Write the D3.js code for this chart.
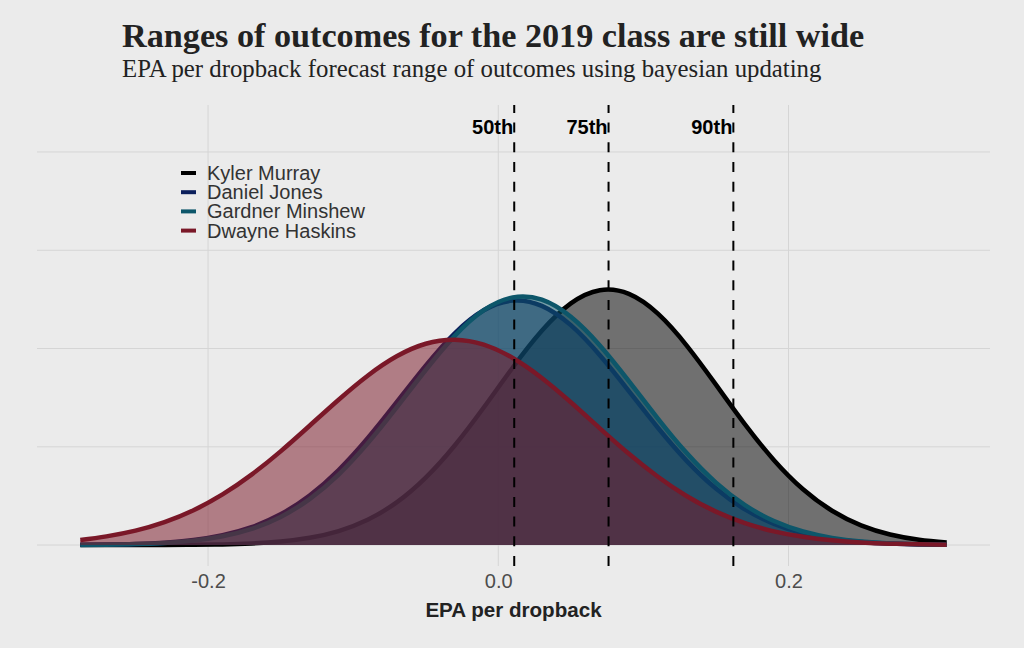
<!DOCTYPE html>
<html>
<head>
<meta charset="utf-8">
<script src="https://cdn.jsdelivr.net/npm/d3@7"></script>
<style>
  html, body { margin: 0; padding: 0; background: #ebebeb; }
  svg { display: block; }
</style>
</head>
<body>
<svg id="chart" width="1024" height="648"></svg>
<script>
// ---- data ----
const xValues = [-0.288, -0.27, -0.25, -0.23, -0.21, -0.19, -0.17, -0.15, -0.13, -0.11,
                 -0.09, -0.07, -0.05, -0.03, -0.01, 0.01, 0.03, 0.05, 0.07, 0.09,
                 0.11, 0.13, 0.15, 0.17, 0.19, 0.21, 0.23, 0.25, 0.27, 0.29, 0.309];
const kylerMurray = [0.0001, 0.0002, 0.0007, 0.002, 0.005, 0.013, 0.032, 0.071, 0.147, 0.284,
                     0.514, 0.868, 1.372, 2.027, 2.799, 3.614, 4.360, 4.918, 5.186, 5.111,
                     4.709, 4.055, 3.265, 2.456, 1.728, 1.136, 0.698, 0.401, 0.215, 0.108, 0.051];
const danielJones = [0.004, 0.0095, 0.022, 0.049, 0.102, 0.199, 0.364, 0.625, 1.008, 1.527,
                     2.174, 2.907, 3.652, 4.310, 4.778, 4.976, 4.869, 4.475, 3.863, 3.134,
                     2.387, 1.709, 1.149, 0.726, 0.431, 0.240, 0.126, 0.062, 0.029, 0.012, 0.005];
const gardnerMinshew = [0.003, 0.008, 0.019, 0.043, 0.090, 0.178, 0.329, 0.573, 0.936, 1.435,
                        2.069, 2.801, 3.563, 4.258, 4.780, 5.041, 4.994, 4.647, 4.063, 3.337,
                        2.575, 1.866, 1.271, 0.813, 0.488, 0.276, 0.146, 0.073, 0.034, 0.015, 0.006];
const dwayneHaskins = [0.102, 0.177, 0.293, 0.466, 0.708, 1.030, 1.433, 1.907, 2.429, 2.958,
                       3.447, 3.842, 4.097, 4.180, 4.079, 3.808, 3.401, 2.906, 2.375, 1.857,
                       1.390, 0.994, 0.680, 0.446, 0.279, 0.167, 0.096, 0.053, 0.028, 0.014, 0.007];
const playerNames = ["Kyler Murray", "Daniel Jones", "Gardner Minshew", "Dwayne Haskins"];
const playerColors = ["#000000", "#0b1f5c", "#0d566a", "#7a1828"];
const quantileValues = [0.011, 0.076, 0.162];
const quantileLabels = ["50th", "75th", "90th"];
const xTickValues = [-0.2, 0, 0.2];
const xTickLabels = ["-0.2", "0.0", "0.2"];
const yGridValues = [0, 2, 4, 6, 8];
const labelLevel = 8.5;
const yTopValue = 8.53;
const titleText = "Ranges of outcomes for the 2019 class are still wide";
const subtitleText = "EPA per dropback forecast range of outcomes using bayesian updating";
const xAxisTitle = "EPA per dropback";

const seriesValues = [kylerMurray, danielJones, gardnerMinshew, dwayneHaskins];

// ---- layout ----
const svg = d3.select("#chart");
const W = 1024, H = 648;
const panel = { left: 37, right: 990, top: 105, bottom: 566 };

svg.append("rect").attr("width", W).attr("height", H).attr("fill", "#ebebeb");

const xExt = d3.extent(xValues);
const xPad = (xExt[1] - xExt[0]) * 0.05;
const x = d3.scaleLinear().domain([xExt[0] - xPad, xExt[1] + xPad]).range([panel.left, panel.right]);
const y = d3.scaleLinear().domain([-yTopValue * 0.05, yTopValue * 1.05]).range([panel.bottom, panel.top]);

// grid
const grid = svg.append("g");
grid.selectAll("line.h").data(yGridValues).join("line")
  .attr("x1", panel.left).attr("x2", panel.right)
  .attr("y1", d => y(d)).attr("y2", d => y(d))
  .attr("stroke", "#d5d5d5").attr("stroke-width", 1);
grid.selectAll("line.v").data(xTickValues).join("line")
  .attr("x1", d => x(d)).attr("x2", d => x(d))
  .attr("y1", panel.top).attr("y2", panel.bottom)
  .attr("stroke", "#d5d5d5").attr("stroke-width", 1);

// densities
const area = d3.area().x(d => x(d[0])).y0(y(0)).y1(d => y(d[1])).curve(d3.curveNatural);
const line = d3.line().x(d => x(d[0])).y(d => y(d[1])).curve(d3.curveNatural);
const curves = svg.append("g");
seriesValues.forEach((vals, i) => {
  const pts = xValues.map((xv, j) => [xv, vals[j]]);
  curves.append("path").attr("d", area(pts))
    .attr("fill", playerColors[i]).attr("fill-opacity", 0.52).attr("stroke", "none");
  curves.append("path").attr("d", line(pts))
    .attr("fill", "none").attr("stroke", playerColors[i]).attr("stroke-width", 4.5);
});

// quantile lines
const q = svg.append("g");
q.selectAll("line").data(quantileValues).join("line")
  .attr("x1", d => x(d)).attr("x2", d => x(d))
  .attr("y1", panel.bottom).attr("y2", panel.top)
  .attr("stroke", "#000").attr("stroke-width", 2)
  .attr("stroke-dasharray", "10,9.7");
q.selectAll("text").data(quantileValues).join("text")
  .attr("x", d => x(d) - 1).attr("y", y(labelLevel)).attr("dy", "0.35em")
  .attr("text-anchor", "end")
  .attr("font-family", "Liberation Sans, Arial, sans-serif")
  .attr("font-weight", "bold").attr("font-size", 20).attr("fill", "#000")
  .text((d, i) => quantileLabels[i]);

// x axis
const axis = svg.append("g").attr("transform", `translate(0,${panel.bottom})`)
  .call(d3.axisBottom(x).tickValues(xTickValues).tickSize(0).tickPadding(8)
        .tickFormat((d, i) => xTickLabels[i]));
axis.select(".domain").remove();
axis.selectAll("text").attr("font-family", "Liberation Sans, Arial, sans-serif")
  .attr("font-size", 20).attr("fill", "#4d4d4d");

svg.append("text").attr("x", (panel.left + panel.right) / 2).attr("y", 617)
  .attr("text-anchor", "middle")
  .attr("font-family", "Liberation Sans, Arial, sans-serif")
  .attr("font-weight", "bold").attr("font-size", 20.6).attr("fill", "#222")
  .text(xAxisTitle);

// titles
svg.append("text").attr("x", 122).attr("y", 47)
  .attr("font-family", "Liberation Serif, Times New Roman, serif")
  .attr("font-weight", "bold").attr("font-size", 34.2).attr("fill", "#222")
  .text(titleText);
svg.append("text").attr("x", 122).attr("y", 77)
  .attr("font-family", "Liberation Serif, Times New Roman, serif")
  .attr("font-size", 24.8).attr("fill", "#222")
  .text(subtitleText);

// legend
const legend = svg.append("g").attr("transform", "translate(181,173)");
const items = legend.selectAll("g").data(playerNames).join("g")
  .attr("transform", (d, i) => `translate(0,${i * 19.2})`);
items.append("line").attr("x1", 0).attr("x2", 15).attr("y1", 0).attr("y2", 0)
  .attr("stroke", (d, i) => playerColors[i]).attr("stroke-width", 4);
items.append("text").attr("x", 26).attr("y", 0).attr("dy", "0.35em")
  .attr("font-family", "Liberation Sans, Arial, sans-serif")
  .attr("font-size", 20).attr("fill", "#333")
  .text(d => d);
</script>
</body>
</html>
